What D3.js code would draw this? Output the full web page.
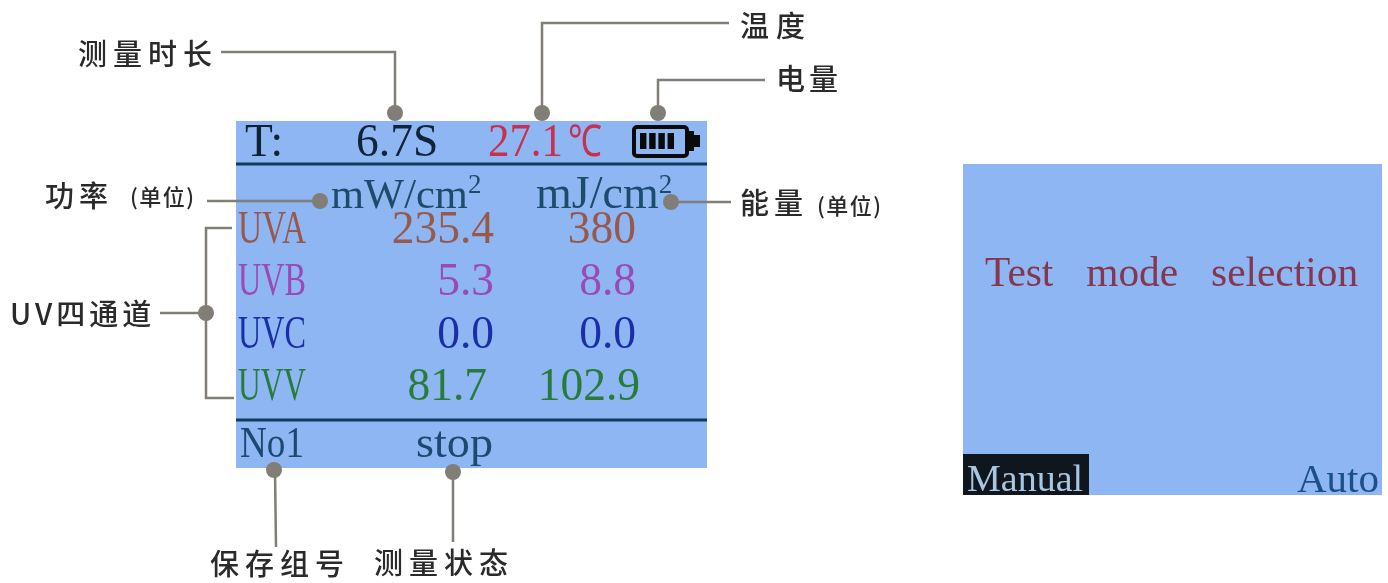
<!DOCTYPE html>
<html>
<head>
<meta charset="utf-8">
<script src="https://cdnjs.cloudflare.com/ajax/libs/d3/7.8.5/d3.min.js"></script>
<style>
html,body{margin:0;padding:0;background:#fff;overflow:hidden}
svg{display:block;filter:blur(0.35px)}
.serif{font-family:"Liberation Serif",serif}
.cjk{font-family:"Noto Sans CJK SC",sans-serif;fill:#2a2a2a;font-weight:500}
</style>
</head>
<body>
<svg id="chart" width="1388" height="583"></svg>
<script>
// ---- data ----
const channels = ["UVA", "UVB", "UVC", "UVV"];
const powerValues = ["235.4", "5.3", "0.0", "81.7"];
const energyValues = ["380", "8.8", "0.0", "102.9"];
const duration = "6.7S";
const temperature = "27.1";
const tempUnit = "℃";
const batteryBars = ["b1", "b2", "b3", "b4"];
const saveGroup = "No1";
const measureState = "stop";
const modeTitle = "Test mode selection";
const modeOptions = ["Manual", "Auto"];
const calloutLabels = ["测量时长", "温度", "电量", "功率", "能量", "UV四通道", "保存组号", "测量状态"];
const unitNote = "(单位)";

// ---- styles ----
const panelFill = "#8db6f2", ruleColor = "#0f3a60", leader = "#807e76";
const channelColor = d3.scaleOrdinal(channels, ["#99594a", "#9b4ab5", "#1a2fa6", "#2a7a3c"]);

const svg = d3.select("#chart");
const y = d3.scalePoint(channels, [243, 400]);
const xValue = d3.scaleOrdinal(["power", "energy"], [494, 636]);
const nudge = {power: {UVV: -7}, energy: {UVV: 4}};

function serif(g, str, x, yy, size, fill, opts = {}) {
  const t = g.append("text").attr("class", "serif").attr("x", x).attr("y", yy)
    .attr("font-size", size).attr("fill", fill).text(str);
  if (opts.anchor) t.attr("text-anchor", opts.anchor);
  if (opts.len) t.attr("textLength", opts.len).attr("lengthAdjust", "spacingAndGlyphs");
  return t;
}

// ---- main panel ----
const main = svg.append("g");
main.append("rect").attr("x", 236).attr("y", 121).attr("width", 471).attr("height", 347).attr("fill", panelFill);
main.selectAll("line.rule").data([164, 420]).join("line").attr("class", "rule")
  .attr("x1", 236).attr("x2", 707).attr("y1", d => d).attr("y2", d => d)
  .attr("stroke", ruleColor).attr("stroke-width", 3);

serif(main, "T:", 245, 156, 45.5, "#0e2233");
serif(main, duration, 356, 156, 45.5, "#10243c");
serif(main, temperature, 488, 156, 45.5, "#c8304e", {len: 75});
serif(main, tempUnit, 568, 156, 44, "#c8304e", {len: 34});

// battery
const bat = main.append("g");
bat.append("rect").attr("x", 634).attr("y", 127).attr("width", 53).attr("height", 29).attr("rx", 3)
  .attr("fill", "none").attr("stroke", "#0a0a0a").attr("stroke-width", 4);
bat.append("path").attr("d", "M688,131H694V135H700V147H694V151H688Z").attr("fill", "#0a0a0a");
const xBar = d3.scaleBand(batteryBars, [640, 674]).paddingInner(0.3);
bat.selectAll("rect.bar").data(batteryBars).join("rect").attr("class", "bar")
  .attr("x", d => xBar(d)).attr("width", xBar.bandwidth()).attr("y", 133).attr("height", 16).attr("fill", "#0a0a0a");

// units
const unit = (x, name, size) => {
  const t = serif(main, "", x, 208, size, "#1b4c6c");
  t.append("tspan").text(name);
  t.append("tspan").attr("dy", -15).attr("font-size", 27).text("2");
};
unit(331, "mW/cm", 42.5);
unit(536, "mJ/cm", 46);

// rows
const rows = main.selectAll("g.row").data(channels).join("g").attr("class", "row");
rows.each(function (c, i) {
  const g = d3.select(this), col = channelColor(c);
  serif(g, c, 238, y(c), 46, col, {len: 68});
  serif(g, powerValues[i], xValue("power") + (nudge.power[c] || 0), y(c), 45.5, col, {anchor: "end"});
  serif(g, energyValues[i], xValue("energy") + (nudge.energy[c] || 0), y(c), 45.5, col, {anchor: "end"});
});

serif(main, saveGroup, 240, 457, 45, "#1a4a72", {len: 64});
serif(main, measureState, 416, 457, 45, "#1a4a72", {len: 77});

// ---- mode panel ----
const mode = svg.append("g");
mode.append("rect").attr("x", 963).attr("y", 164).attr("width", 419).attr("height", 331).attr("fill", panelFill);
serif(mode, modeTitle, 985, 286, 41.4, "#86364e").attr("word-spacing", 22.5);
mode.append("rect").attr("x", 963).attr("y", 454).attr("width", 126).attr("height", 41).attr("fill", "#10161e");
serif(mode, modeOptions[0], 967, 491, 38, "#a9c5df");
serif(mode, modeOptions[1], 1297, 492, 41, "#1c4e88");

// ---- callouts ----
const lineGen = d3.line();
const callouts = [
  {pts: [[221, 52], [395, 52], [395, 113]], dot: [395, 113]},
  {pts: [[729, 23], [542, 23], [542, 113]], dot: [542, 113]},
  {pts: [[765, 80], [658, 80], [658, 113]], dot: [658, 113]},
  {pts: [[207, 201], [320, 201]], dot: [320, 201]},
  {pts: [[731, 202], [671, 202]], dot: [671, 202]},
  {pts: [[232, 228], [206, 228], [206, 398], [234, 398]], dot: [206, 313]},
  {pts: [[160, 313], [206, 313]], dot: null},
  {pts: [[275, 470], [276, 547]], dot: [274, 470]},
  {pts: [[453, 472], [453, 542]], dot: [453, 472]}
];
const ann = svg.append("g");
ann.selectAll("path").data(callouts).join("path")
  .attr("d", d => lineGen(d.pts)).attr("fill", "none").attr("stroke", leader).attr("stroke-width", 2.5);
ann.selectAll("circle").data(callouts.filter(d => d.dot)).join("circle")
  .attr("cx", d => d.dot[0]).attr("cy", d => d.dot[1]).attr("r", 8).attr("fill", leader);

const labelPos = [
  [78, 65, 6], [740, 37, 7], [776, 90, 4], [45, 207, 5], [740, 214, 5], [10, 325, 4], [210, 574.5, 6], [374, 574, 6]
];
ann.selectAll("text.lab").data(calloutLabels).join("text")
  .attr("class", "lab cjk").attr("x", (d, i) => labelPos[i][0]).attr("y", (d, i) => labelPos[i][1])
  .attr("font-size", 29).attr("letter-spacing", (d, i) => labelPos[i][2]).text(d => d);
[[130, 205], [817, 214]].forEach(p => {
  ann.append("text").attr("class", "cjk").attr("x", p[0]).attr("y", p[1])
    .attr("font-size", 22).attr("letter-spacing", 1.5).text(unitNote);
});
</script>
</body>
</html>
